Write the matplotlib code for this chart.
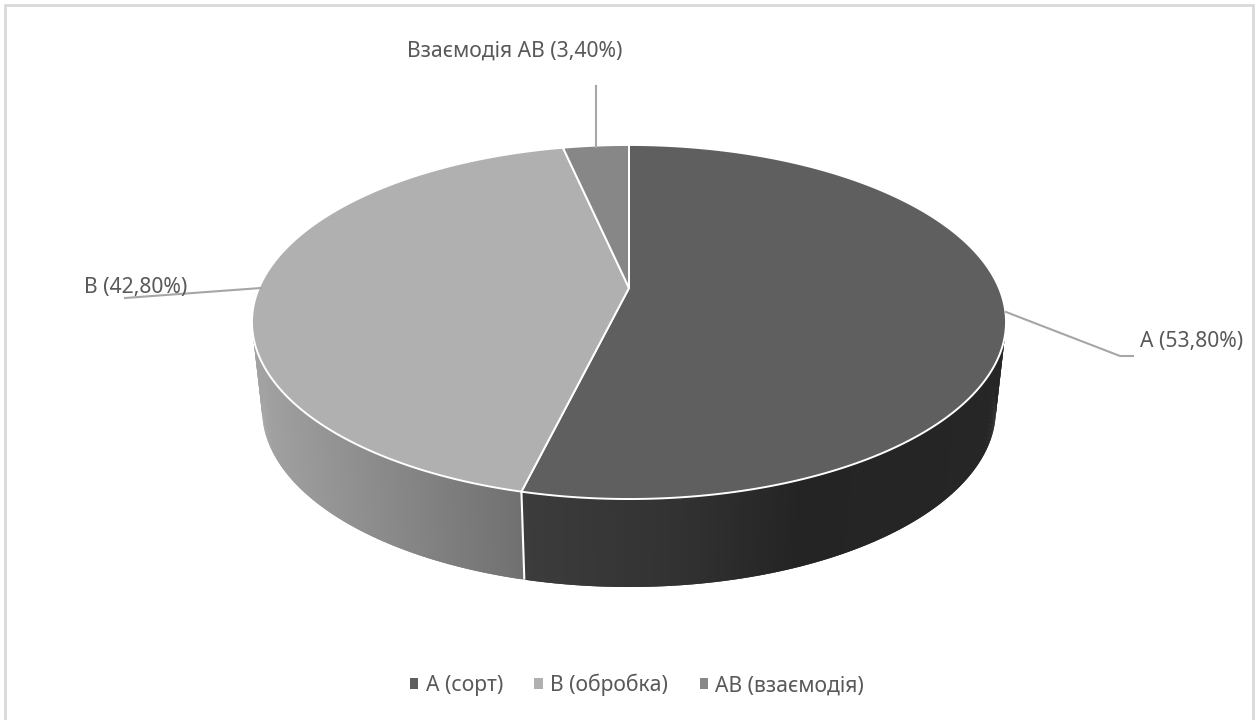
import numpy as np
import matplotlib
matplotlib.use("Agg")
import matplotlib.pyplot as plt
from matplotlib.patches import Patch, Polygon, Rectangle

# data
shares = [53.8, 42.8, 3.4]
slice_labels = ["А (53,80%)", "В (42,80%)", "Взаємодія АВ (3,40%)"]
legend_labels = ["А (сорт)", "В (обробка)", "АВ (взаємодія)"]
top_colors = ["#5f5f5f", "#b0b0b0", "#878787"]

plt.rcParams['font.family'] = ['Noto Sans', 'DejaVu Sans']
TEXT = "#595959"
LEADER = "#a6a6a6"
FS = 15.2

# the pie is a circle seen in perspective, in pixels of the picture
CX, CY = 629, 288
DEPTH = 88
K, G = 0.192, 170.5
F_TOP, F_BOTTOM = 370, 360


def rim(theta, f, cy):
    x = np.sin(theta)
    y = np.cos(theta)
    d = 1 + K * y
    return CX + f * x / d, cy - G * y / d


def side_gray(x, xs, grays):
    g = np.interp(x, xs, grays) / 255
    return (g, g, g)


fig = plt.figure(figsize=(12.59, 7.2), dpi=100)
ax = fig.add_axes([0, 0, 1, 1])
ax.set_xlim(0, 1259)
ax.set_ylim(720, 0)
ax.axis("off")

ax.add_patch(Rectangle((5, 5), 1248, 730, fc="white", ec="#d9d9d9", lw=2))

edges = np.radians(np.cumsum([0] + shares) * 3.6)

# side wall, overlapping strips so that the shade runs along x without seams
ramps = [([525, 680, 800, 1000], [60, 50, 36, 38]), ([260, 525], [162, 112])]
for i, (xs, grays) in enumerate(ramps):
    th = np.linspace(edges[i], edges[i + 1], 400)
    xt, yt = rim(th, F_TOP, CY)
    xb, yb = rim(th, F_BOTTOM, CY + DEPTH)
    for j in range(len(th) - 1):
        k = min(j + 2, len(th) - 1)
        quad = [(xt[j], yt[j]), (xt[k], yt[k]), (xb[k], yb[k]), (xb[j], yb[j])]
        c = side_gray((xt[j] + xb[j]) / 2, xs, grays)
        ax.add_patch(Polygon(quad, fc=c, ec="none", lw=0))

# seam between the two visible walls
xt, yt = rim(edges[1], F_TOP, CY)
xb, yb = rim(edges[1], F_BOTTOM, CY + DEPTH)
ax.plot([xt, xb], [yt, yb], color="white", lw=1.5, solid_capstyle="butt")

# top face
for i, color in enumerate(top_colors):
    th = np.linspace(edges[i], edges[i + 1], 300)
    xt, yt = rim(th, F_TOP, CY)
    pts = np.column_stack([np.r_[CX, xt], np.r_[CY, yt]])
    ax.add_patch(Polygon(pts, fc=color, ec="white", lw=1.4, joinstyle="round"))

# leaders
ax.plot([1006, 1120, 1133], [312, 356, 356], color=LEADER, lw=1.5)
ax.plot([261, 125], [288, 298], color=LEADER, lw=1.5)
ax.plot([596, 596], [86, 147], color=LEADER, lw=1.5)

# slice labels
ax.text(1192, 342, slice_labels[0], color=TEXT, fontsize=FS, ha="center", va="center")
ax.text(136, 287, slice_labels[1], color=TEXT, fontsize=FS, ha="center", va="center")
ax.text(515, 51, slice_labels[2], color=TEXT, fontsize=FS, ha="center", va="center")

handles = [Patch(fc=c, ec="none") for c in top_colors]
ax.legend(handles, legend_labels, ncols=3, loc="center", bbox_to_anchor=(637, 685),
          bbox_transform=ax.transData, frameon=False, fontsize=FS, labelcolor=TEXT,
          handlelength=0.4, handleheight=0.4, handletextpad=0.35, columnspacing=1.49)

fig.savefig("out.png", dpi=100)
